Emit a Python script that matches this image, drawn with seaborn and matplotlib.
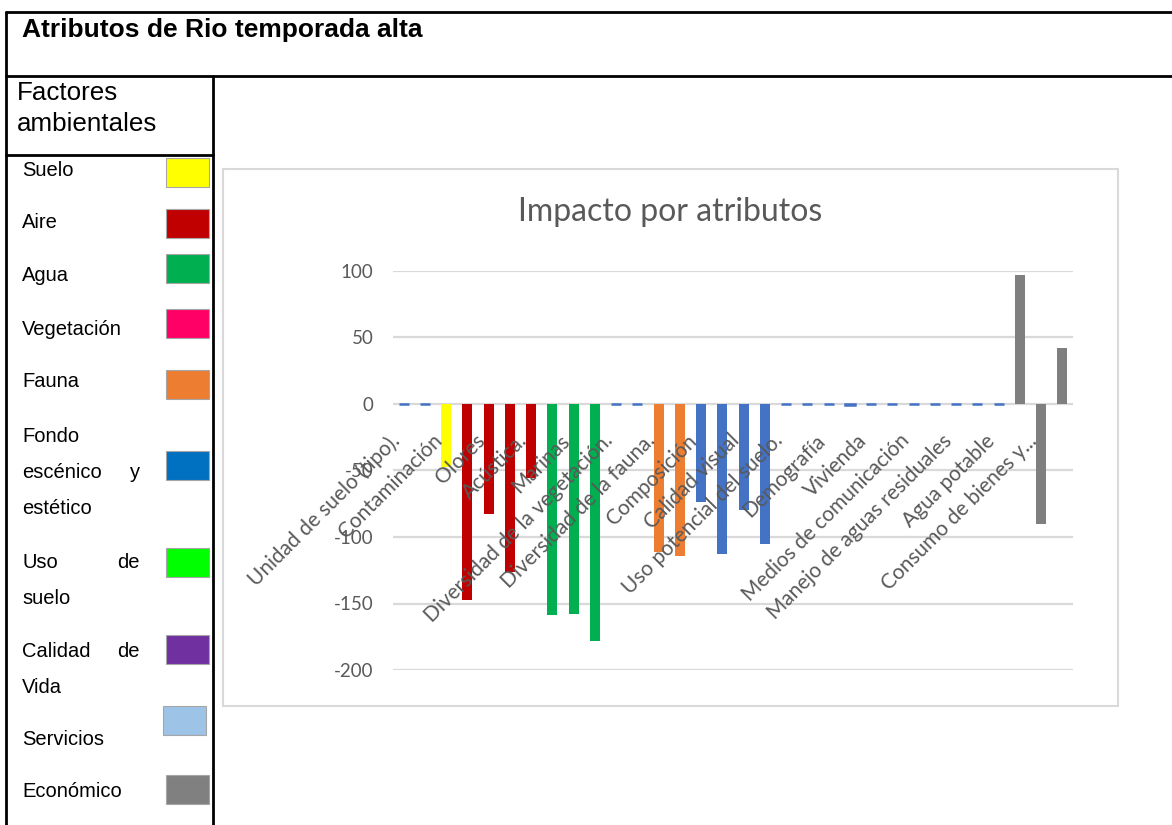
"""
plot.py — Impacto por atributos (Rio, temporada alta), tabla con leyenda de factores.
"""

import matplotlib
matplotlib.use("Agg")
import matplotlib.pyplot as plt
import matplotlib.transforms as mtransforms
import seaborn as sns
import pandas as pd
from matplotlib.patches import Rectangle
from matplotlib.lines import Line2D


# ── Datos ────────────────────────────────────────────────────────────────────
# 32 atributos; Excel solo rotula uno de cada dos
impacto = [0, 0, -47, -147, -83, -126, -56, -159, -158, -178, 0, 0,
           -111, -114, -74, -113, -80, -105, 0, 0, 0, -1, 0, 0,
           0, 0, 0, 0, 0, 97, -90, 42]
grupo = (["Sin color"] * 2 + ["Suelo"] + ["Aire"] * 4 + ["Agua"] * 3
         + ["Sin color"] * 2 + ["Fauna"] * 2 + ["Fondo"] * 4
         + ["Sin color"] * 11 + ["Económico"] * 3)
etiquetas = ["Unidad de suelo (tipo).", "Contaminación", "Olores", "Acústica.",
             "Marinas", "Diversidad de la vegetación.", "Diversidad de la fauna.",
             "Composición", "Calidad visual", "Uso potencial del suelo.",
             "Demografía", "Vivienda", "Medios de comunicación",
             "Manejo de aguas residuales", "Agua potable", "Consumo de bienes y..."]
colores_barra = {"Sin color": "#4472C4", "Suelo": "#FFFF00", "Aire": "#C00000",
                 "Agua": "#00B050", "Fauna": "#ED7D31", "Fondo": "#4472C4",
                 "Económico": "#7F7F7F"}

factores = ["Suelo", "Aire", "Agua", "Vegetación", "Fauna",
            "Fondo escénico y estético", "Uso de suelo", "Calidad de Vida",
            "Servicios", "Económico"]
colores_factor = ["#FFFF00", "#C00000", "#00B050", "#FF0066", "#ED7D31",
                  "#0070C0", "#00FF00", "#7030A0", "#9DC3E6", "#808080"]

# ── Maquetación (pixeles de la imagen) ───────────────────────────────────────
W, H = 1172, 825
TXT = "#595959"
GRID = "#D9D9D9"
# lineas de texto de cada factor (izquierda, derecha justificada)
lineas = {
    "Fondo escénico y estético": [("Fondo", ""), ("escénico", "y"), ("estético", "")],
    "Uso de suelo": [("Uso", "de"), ("suelo", "")],
    "Calidad de Vida": [("Calidad", "de"), ("Vida", "")],
}
base_y = [176, 228, 281, 335, 387, 442, 568, 657, 745, 797]
caja_y = [158, 209, 254, 309, 370, 451, 548, 635, 706, 775]
caja_x = [166] * 8 + [163, 166]


def fx(px):
    return px / W


def fy(py):
    return 1 - py / H


sns.set_theme(style="white")
plt.rcParams["font.family"] = ["Lato", "DejaVu Sans"]
plt.rcParams["axes.unicode_minus"] = False

fig = plt.figure(figsize=(W / 100, H / 100), dpi=100)
fig.patch.set_facecolor("white")

# ── Gráfico de barras ────────────────────────────────────────────────────────
ax = fig.add_axes([fx(393), fy(670), fx(1073) - fx(393), fy(271) - fy(670)])
df = pd.DataFrame({"pos": range(len(impacto)), "impacto": impacto, "grupo": grupo})
sns.barplot(data=df, x="pos", y="impacto", hue="grupo", palette=colores_barra,
            dodge=False, width=0.47, saturation=1, legend=False, ax=ax,
            linewidth=0)

# barras en cero: Excel las muestra como un trazo azul
for p in ax.patches:
    if abs(p.get_height()) < 2:
        p.set_edgecolor("#4472C4")
        p.set_linewidth(1.8)

ax.set_xlim(-0.5, len(impacto) - 0.5)
ax.set_ylim(-200, 100)
ax.set_yticks(range(-200, 101, 50))
ax.yaxis.grid(True, color=GRID, lw=1.6)
ax.set_axisbelow(True)
ax.xaxis.set_zorder(5)  # etiquetas encima de las barras, como en Excel
for s in ["left", "top", "right"]:
    ax.spines[s].set_visible(False)
ax.spines["bottom"].set_position(("data", 0))
ax.spines["bottom"].set_color("none")
ax.set_xlabel("")
ax.set_ylabel("")
ax.set_facecolor("none")

ax.set_xticks(range(0, len(impacto), 2))
ax.set_xticklabels(etiquetas, rotation=45, ha="right", va="top",
                   rotation_mode="anchor", color=TXT, fontsize=15)
ax.tick_params(axis="x", length=0, pad=4)
ax.tick_params(axis="y", length=0, pad=14, labelcolor=TXT, labelsize=13.5)

desplaza = mtransforms.ScaledTranslation(-0.14, -0.21, fig.dpi_scale_trans)
for lab in ax.get_xticklabels():
    lab.set_transform(lab.get_transform() + desplaza)

fig.text(fx(670), fy(212), "Impacto por atributos", ha="center", va="center",
         fontsize=23, color=TXT)

# marco del gráfico
fig.patches.append(Rectangle((fx(223), fy(706)), fx(1118) - fx(223),
                             fy(169) - fy(706), transform=fig.transFigure,
                             fill=False, edgecolor=GRID, lw=1.5))

# ── Tabla ────────────────────────────────────────────────────────────────────
for x0, y0, x1, y1 in [(6, 12, 1172, 12), (6, 76, 1172, 76), (6, 155, 213, 155),
                       (6, 12, 6, 825), (213, 76, 213, 825)]:
    fig.add_artist(Line2D([fx(x0), fx(x1)], [fy(y0), fy(y1)], color="black",
                          lw=2, transform=fig.transFigure))

arial = "Liberation Sans"
fig.text(fx(22), fy(37), "Atributos de Rio temporada alta", family=arial,
         fontsize=19, fontweight="bold", va="baseline", color="black")
fig.text(fx(17), fy(100), "Factores", family=arial, fontsize=18.7,
         va="baseline", color="black")
fig.text(fx(17), fy(131), "ambientales", family=arial, fontsize=18.7,
         va="baseline", color="black")

for i, nombre in enumerate(factores):
    filas = lineas.get(nombre, [(nombre, "")])
    for j, (izq, der) in enumerate(filas):
        yb = base_y[i] + j * 36
        fig.text(fx(22), fy(yb), izq, family=arial, fontsize=14.5,
                 va="baseline", color="black")
        if der:
            fig.text(fx(140), fy(yb), der, family=arial, fontsize=14.5,
                     va="baseline", ha="right", color="black")
    fig.patches.append(Rectangle((fx(caja_x[i]), fy(caja_y[i] + 29)), fx(43),
                                 fy(0) - fy(29), transform=fig.transFigure,
                                 facecolor=colores_factor[i], edgecolor="#A6A6A6",
                                 lw=0.8))

fig.savefig("out.png", dpi=100, facecolor="white")
